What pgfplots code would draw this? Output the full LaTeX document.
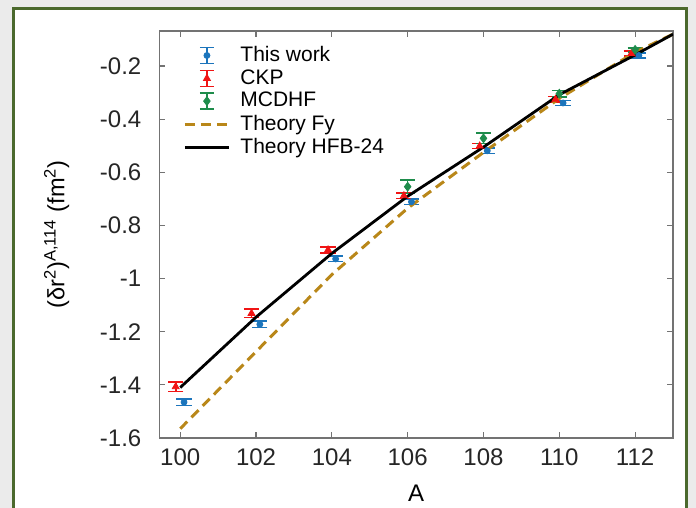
\documentclass[border=0pt]{standalone}
\usepackage{fontspec}
\setmainfont{Liberation Sans}
\usepackage{pgfplots}
\pgfplotsset{compat=1.18}
\definecolor{cBlue}{RGB}{28,117,188}
\definecolor{cRed}{RGB}{240,20,20}
\definecolor{cGreen}{RGB}{30,140,75}
\definecolor{cGold}{RGB}{185,135,25}
\definecolor{frameGreen}{RGB}{75,105,45}
\definecolor{bgGray}{RGB}{235,235,235}

\begin{document}
\begin{tikzpicture}
% page frame: 1px of the reference = 0.5pt
\useasboundingbox (0,0) rectangle (348pt,254pt);
\fill[bgGray] (0,0) rectangle (348pt,254pt);
\clip (0,0) rectangle (348pt,254pt);
\fill[white] (6.65pt,-5pt) rectangle (343pt,249.5pt);
\draw[frameGreen, line width=1.5pt] (6.65pt,-5pt) -- (6.65pt,249.5pt) -- (343pt,249.5pt) -- (343pt,-5pt);

\begin{axis}[
  at={(79.7pt,35pt)}, anchor=south west,
  scale only axis, width=256.8pt, height=203.5pt,
  xmin=99.45, xmax=113, ymin=-1.6, ymax=-0.068,
  xtick={100,102,104,106,108,110,112},
  ytick={-1.6,-1.4,-1.2,-1,-0.8,-0.6,-0.4,-0.2},
  tick align=inside, major tick length=3pt,
  axis line style={black!55, line width=0.6pt},
  tick style={black!55, line width=0.6pt},
  ticklabel style={font=\fontsize{12}{14}\selectfont, text=black!85},
  yticklabel shift=5.5pt,
  xticklabel shift=2pt,
  /pgf/number format/assume math mode=true,
  xlabel={A},
  ylabel={(δr\textsuperscript{2})\textsuperscript{A,114} (fm\textsuperscript{2})},
  xlabel style={font=\fontsize{12}{14}\selectfont, at={(axis description cs:0.5,-0.135)}, anchor=center},
  ylabel style={font=\fontsize{11.8}{14}\selectfont, at={(axis description cs:-0.2,0.5)}, anchor=center},
  legend style={draw=none, fill=none, at={(axis description cs:0.046,0.973)}, anchor=north west,
    font=\fontsize{10.5}{12}\selectfont, inner sep=0pt, row sep=-1.5pt},
  legend cell align=left,
  errbar/.style={error bars/.cd, y dir=both, y explicit,
    error mark options={rotate=90, mark size=3.8pt, line width=0.8pt},
    error bar style={line width=0.8pt}, /pgfplots/.cd},
]
% This work
\addplot[only marks, mark=*, color=cBlue, mark size=1.5pt,
  legend image code/.code={
    \path (0pt,0pt) (25pt,0pt);
    \draw[cBlue, line width=0.8pt] (11pt,-4pt) -- (11pt,4pt) (7.5pt,-4pt) -- (14.5pt,-4pt) (7.5pt,4pt) -- (14.5pt,4pt);
    \fill[cBlue] (11pt,0pt) circle (1.5pt);}, errbar]
  coordinates {(100.1,-1.465) +- (0,0.012) (102.1,-1.172) +- (0,0.012) (104.1,-0.926) +- (0,0.01)
    (106.1,-0.711) +- (0,0.01) (108.1,-0.519) +- (0,0.01) (110.1,-0.339) +- (0,0.01) (112.1,-0.160) +- (0,0.01)};
% CKP
\addplot[only marks, mark=triangle*, color=cRed, mark size=2pt,
  legend image code/.code={
    \path (0pt,0pt) (25pt,0pt);
    \draw[cRed, line width=0.8pt] (11pt,-4pt) -- (11pt,4pt) (7.5pt,-4pt) -- (14.5pt,-4pt) (7.5pt,4pt) -- (14.5pt,4pt);
    \draw[cRed] plot[mark=triangle*, mark size=2pt] coordinates {(11pt,0pt)};}, errbar]
  coordinates {(99.88,-1.407) +- (0,0.018) (101.88,-1.131) +- (0,0.016) (103.9,-0.892) +- (0,0.012)
    (105.9,-0.688) +- (0,0.01) (107.9,-0.501) +- (0,0.01) (109.9,-0.325) +- (0,0.01) (111.9,-0.153) +- (0,0.01)};
% MCDHF
\addplot[only marks, mark=diamond*, color=cGreen, mark size=2.2pt,
  legend image code/.code={
    \path (0pt,0pt) (25pt,0pt);
    \draw[cGreen, line width=0.8pt] (11pt,-4pt) -- (11pt,4pt) (7.5pt,-4pt) -- (14.5pt,-4pt) (7.5pt,4pt) -- (14.5pt,4pt);
    \draw[cGreen] plot[mark=diamond*, mark size=2.2pt] coordinates {(11pt,0pt)};}, errbar]
  coordinates {(106,-0.654) +- (0,0.026) (108,-0.472) +- (0,0.02) (110,-0.304) +- (0,0.012) (112,-0.139) +- (0,0.008)};
% Theory Fy
\addplot[cGold, line width=1.5pt, dash pattern=on 5pt off 3pt,
  legend image code/.code={
    \path (0pt,0pt) (25pt,0pt);
    \draw[cGold, line width=1.5pt, dash pattern=on 5pt off 3pt] (0pt,0pt) -- (22pt,0pt);}]
  coordinates {(100,-1.565) (102,-1.275) (104,-0.985) (106,-0.735) (108,-0.525) (110,-0.322) (112,-0.148) (113,-0.08)};
% Theory HFB-24
\addplot[black, line width=1.4pt,
  legend image code/.code={
    \path (0pt,0pt) (25pt,0pt);
    \draw[black, line width=1.4pt] (0pt,0pt) -- (22pt,0pt);}]
  coordinates {(100,-1.41) (102,-1.145) (104,-0.905) (106,-0.69) (108,-0.505) (110,-0.308) (112,-0.158) (113,-0.08)};
\legend{This work, CKP, MCDHF, Theory Fy, Theory HFB-24}
\end{axis}
\end{tikzpicture}
\end{document}
